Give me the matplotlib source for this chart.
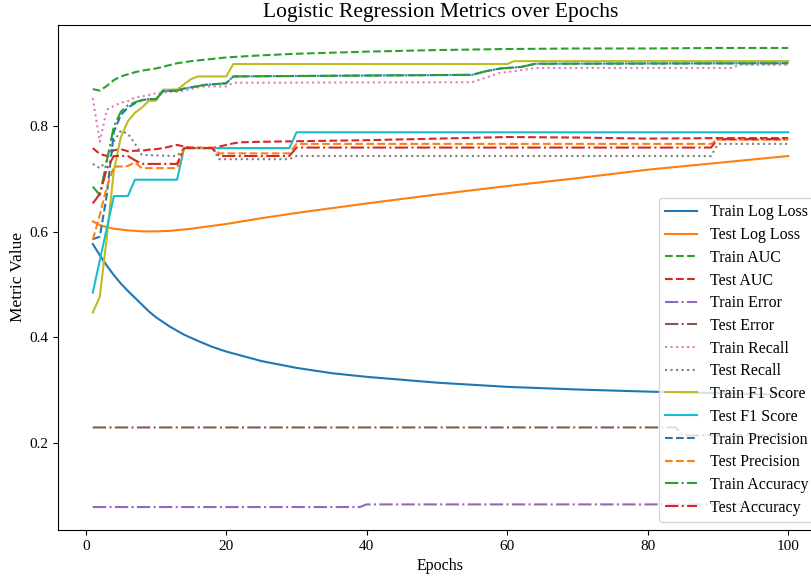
"""Logistic regression training curves, 100 epochs, 14 metrics.

Usage: python plot.py -> out.png
"""

import matplotlib

matplotlib.use("Agg")
import matplotlib.pyplot as plt

plt.rcParams["font.family"] = ["Liberation Serif", "DejaVu Serif"]

# (epoch, value) breakpoints
train_logloss_ep = [1, 2, 3, 4, 5, 6, 7, 8, 9, 10, 12, 14, 16, 18, 20, 25, 30, 35, 40, 50, 60, 70, 80, 90, 100]
train_logloss = [0.577, 0.556, 0.536, 0.518, 0.502, 0.488, 0.475, 0.462, 0.449, 0.438, 0.420, 0.405,
                 0.393, 0.382, 0.373, 0.355, 0.342, 0.332, 0.325, 0.314, 0.306, 0.301, 0.297,
                 0.294, 0.291]

test_logloss_ep = [1, 2, 3, 4, 6, 8, 10, 12, 15, 20, 25, 30, 40, 50, 60, 70, 80, 90, 100]
test_logloss = [0.620, 0.613, 0.609, 0.606, 0.603, 0.601, 0.601, 0.602, 0.606, 0.615, 0.626,
                0.636, 0.654, 0.671, 0.687, 0.702, 0.718, 0.731, 0.744]

train_auc_ep = [1, 2, 3, 4, 5, 6, 7, 8, 10, 13, 15, 20, 25, 30, 40, 50, 60, 70, 80, 90, 100]
train_auc = [0.871, 0.868, 0.877, 0.888, 0.895, 0.899, 0.903, 0.906, 0.910, 0.920, 0.924,
             0.931, 0.935, 0.938, 0.942, 0.945, 0.947, 0.948, 0.948, 0.949, 0.949]

test_auc_ep = [1, 2, 3, 4, 5, 6, 7, 8, 9, 10, 11, 12, 13, 14, 15, 17, 18, 19, 20, 21, 22,
               25, 30, 40, 50, 60, 70, 80, 90, 100]
test_auc = [0.759, 0.748, 0.744, 0.755, 0.757, 0.753, 0.754, 0.754, 0.756, 0.757, 0.759, 0.762,
            0.765, 0.762, 0.760, 0.759, 0.759, 0.762, 0.765, 0.768, 0.770,
            0.771, 0.772, 0.774, 0.777, 0.780, 0.779, 0.777, 0.778, 0.778]

train_err_ep = [1, 39, 40, 100]
train_err = [0.078, 0.078, 0.083, 0.083]

test_err_ep = [1, 84, 85, 100]
test_err = [0.229, 0.229, 0.214, 0.214]

train_recall_ep = [1, 2, 3, 4, 5, 6, 7, 8, 10, 12, 13, 14, 16, 17, 20, 21, 55, 57, 59, 61, 64, 92, 93, 100]
train_recall = [0.854, 0.771, 0.832, 0.839, 0.845, 0.848, 0.855, 0.857, 0.863, 0.866, 0.866, 0.868,
                0.874, 0.876, 0.876, 0.883, 0.884, 0.893, 0.902, 0.905, 0.911, 0.911, 0.917, 0.917]

test_recall_ep = [1, 2, 3, 4, 5, 6, 7, 8, 13, 14, 18, 19, 29, 30, 89, 90, 100]
test_recall = [0.729, 0.721, 0.735, 0.772, 0.792, 0.786, 0.768, 0.746, 0.744, 0.759, 0.759,
               0.738, 0.738, 0.744, 0.744, 0.767, 0.767]

train_f1_ep = [1, 2, 3, 4, 5, 6, 7, 8, 9, 10, 11, 13, 14, 15, 16, 20, 21, 60, 61, 100]
train_f1 = [0.447, 0.477, 0.590, 0.716, 0.780, 0.810, 0.826, 0.836, 0.849, 0.849, 0.870, 0.870,
            0.880, 0.890, 0.895, 0.895, 0.9185, 0.9185, 0.924, 0.924]

test_f1_ep = [1, 4, 6, 7, 13, 14, 29, 30, 100]
test_f1 = [0.485, 0.668, 0.668, 0.699, 0.699, 0.759, 0.759, 0.789, 0.789]

train_prec_ep = [1, 2, 3, 4, 5, 6, 7, 8, 9, 10, 11, 13, 14, 17, 20, 21, 55, 57, 59, 60, 62, 64, 100]
train_prec = [0.586, 0.591, 0.670, 0.790, 0.822, 0.836, 0.844, 0.850, 0.852, 0.852, 0.867, 0.868,
              0.872, 0.879, 0.882, 0.895, 0.898, 0.905, 0.910, 0.911, 0.913, 0.919, 0.920]

test_prec_ep = [1, 2, 3, 4, 5, 6, 7, 8, 13, 14, 18, 19, 29, 30, 89, 90, 100]
test_prec = [0.585, 0.632, 0.685, 0.724, 0.724, 0.725, 0.732, 0.721, 0.721, 0.760, 0.760,
             0.749, 0.749, 0.767, 0.767, 0.775, 0.775]

train_acc_ep = [1, 2, 3, 4, 5, 6, 7, 8, 9, 10, 11, 13, 14, 17, 20, 21, 55, 57, 59, 60, 62, 64, 100]
train_acc = [0.686, 0.670, 0.735, 0.800, 0.828, 0.840, 0.846, 0.850, 0.852, 0.852, 0.867, 0.868,
             0.872, 0.879, 0.882, 0.895, 0.898, 0.905, 0.910, 0.911, 0.913, 0.919, 0.920]

test_acc_ep = [1, 2, 3, 4, 6, 7, 8, 13, 14, 18, 19, 29, 30, 89, 90, 100]
test_acc = [0.654, 0.672, 0.720, 0.744, 0.744, 0.736, 0.729, 0.729, 0.759, 0.759, 0.744,
            0.744, 0.760, 0.760, 0.776, 0.776]

series = [
    ("Train Log Loss", train_logloss_ep, train_logloss, "-"),
    ("Test Log Loss", test_logloss_ep, test_logloss, "-"),
    ("Train AUC", train_auc_ep, train_auc, "--"),
    ("Test AUC", test_auc_ep, test_auc, "--"),
    ("Train Error", train_err_ep, train_err, "-."),
    ("Test Error", test_err_ep, test_err, "-."),
    ("Train Recall", train_recall_ep, train_recall, ":"),
    ("Test Recall", test_recall_ep, test_recall, ":"),
    ("Train F1 Score", train_f1_ep, train_f1, "-"),
    ("Test F1 Score", test_f1_ep, test_f1, "-"),
    ("Train Precision", train_prec_ep, train_prec, "--"),
    ("Test Precision", test_prec_ep, test_prec, "--"),
    ("Train Accuracy", train_acc_ep, train_acc, "-."),
    ("Test Accuracy", test_acc_ep, test_acc, "-."),
]

fig = plt.figure(figsize=(8.11, 5.76), dpi=100)
# axes runs past the right edge, as in the cropped original
ax = fig.add_axes([58 / 811, 46 / 576, 765 / 811, 505 / 576])

for label, ep, vals, ls in series:
    ax.plot(ep, vals, ls, label=label)

ax.set_title("Logistic Regression Metrics over Epochs", fontsize=15.5)
ax.set_xlabel("Epochs", fontsize=11.5)
ax.set_ylabel("Metric Value", fontsize=12.5, labelpad=2)
ax.tick_params(labelsize=11)
ax.legend(loc="lower right", fontsize=11.5, labelspacing=0.42)

fig.savefig("out.png", dpi=100)
